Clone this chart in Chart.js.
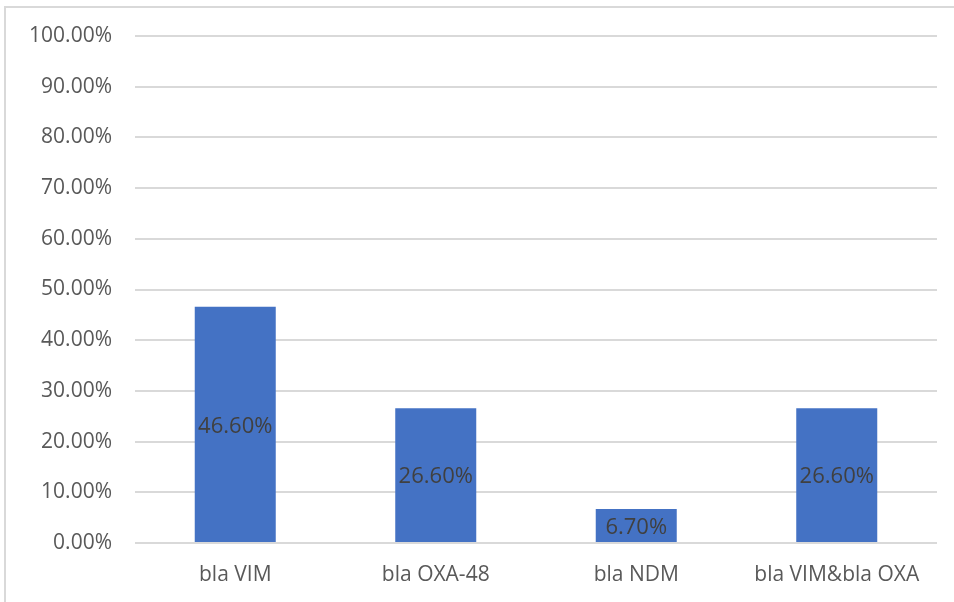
<!DOCTYPE html>
<html>
<head>
<meta charset="utf-8">
<script src="https://cdn.jsdelivr.net/npm/chart.js@4.4.0/dist/chart.umd.min.js"></script>
<style>
  html, body { margin: 0; padding: 0; background: #fff; }
  #wrap { position: relative; width: 954px; height: 602px; overflow: hidden; }
  #frame { position: absolute; left: 4px; top: 6px; width: 980px; height: 640px; border: 2px solid #d9d9d9; box-sizing: border-box; }
  canvas { position: absolute; left: 0; top: 0; }
</style>
</head>
<body>
<div id="wrap">
  <div id="frame"></div>
  <canvas id="geneChart" width="954" height="602"></canvas>
</div>
<script>
  // carbapenemase genes and their share of isolates (%)
  const genes = ["bla VIM", "bla OXA-48", "bla NDM", "bla VIM&bla OXA"];
  const shares = [46.6, 26.6, 6.7, 26.6];
  const yTicks = [0, 10, 20, 30, 40, 50, 60, 70, 80, 90, 100];

  const FONT = "'Open Sans', sans-serif";

  // draw the value inside each bar, centred vertically
  const barValues = {
    id: "barValues",
    afterDatasetsDraw(chart) {
      const ctx = chart.ctx;
      const meta = chart.getDatasetMeta(0);
      ctx.save();
      ctx.font = "22px " + FONT;
      ctx.fillStyle = "#404040";
      ctx.textAlign = "center";
      ctx.textBaseline = "middle";
      meta.data.forEach((bar, i) => {
        const mid = (bar.y + bar.base) / 2 + 2;
        ctx.fillText(shares[i].toFixed(2) + "%", bar.x, mid);
      });
      ctx.restore();
    }
  };

  new Chart(document.getElementById("geneChart").getContext("2d"), {
    type: "bar",
    data: {
      labels: genes,
      datasets: [{
        data: shares,
        backgroundColor: "#4472c4",
        borderWidth: 0,
        barPercentage: 0.404,
        categoryPercentage: 1
      }]
    },
    options: {
      responsive: false,
      animation: false,
      layout: { padding: { left: 10, right: 17, top: 36, bottom: 0 } },
      plugins: { legend: { display: false }, tooltip: { enabled: false } },
      scales: {
        x: {
          grid: { display: false, drawTicks: false },
          border: { display: false },
          ticks: { color: "#595959", font: { family: FONT, size: 21 }, padding: 19, maxRotation: 0 },
          afterFit(scale) { scale.height = 59; }
        },
        y: {
          min: 0,
          max: 100,
          afterBuildTicks(scale) { scale.ticks = yTicks.map(v => ({ value: v })); },
          grid: { color: "#d9d9d9", lineWidth: 2, drawTicks: false },
          border: { display: false },
          ticks: {
            color: "#595959",
            font: { family: FONT, size: 21 },
            padding: 23,
            callback: v => v.toFixed(2) + "%"
          },
          afterFit(scale) { scale.width = 125; }
        }
      }
    },
    plugins: [barValues]
  });
</script>
</body>
</html>
